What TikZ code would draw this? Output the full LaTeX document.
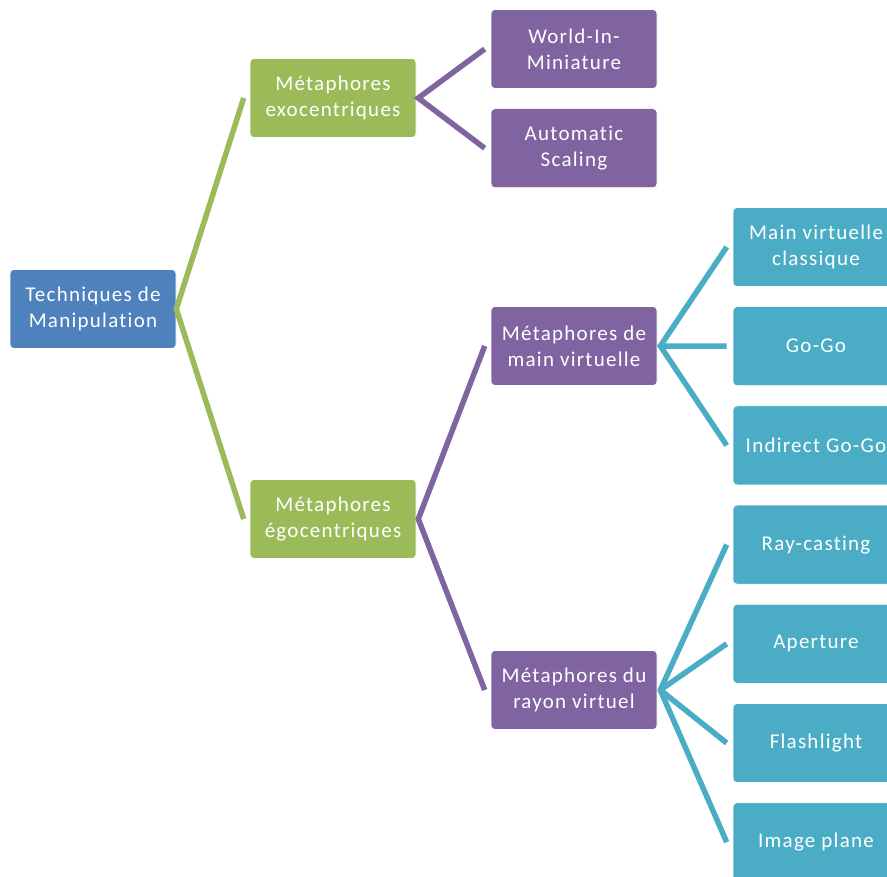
\documentclass[tikz,border=0pt]{standalone}
\usepackage{fontspec}
\setmainfont{Carlito}[LetterSpace=6,Ligatures=NoCommon]
\usetikzlibrary{positioning}
\definecolor{techblue}{HTML}{4F81BD}
\definecolor{metagreen}{HTML}{9BBB59}
\definecolor{metapurple}{HTML}{8064A2}
\definecolor{leafcyan}{HTML}{4BACC6}

\begin{document}
\begin{tikzpicture}[x=1pt,y=-1pt,node distance=19.6pt]
\tikzset{
  box/.style={draw=white,line width=0.6pt,rounded corners=4pt,text=white,align=center,
    inner sep=0pt,minimum width=166pt,minimum height=79pt,font=\fontsize{21}{26}\selectfont},
  techbox/.style={box,fill=techblue},
  metabox/.style={box,fill=metagreen},
  subbox/.style={box,fill=metapurple},
  leafbox/.style={box,fill=leafcyan},
  link/.style={line width=5.5pt,line join=miter}
}
\clip (0,0) rectangle (887,877);

\node[techbox] (tech) at (93,309) {Techniques de\\Manipulation};
\node[metabox] (exo) at (333,98) {Métaphores\\exocentriques};
\node[metabox] (ego) at (333,519) {Métaphores\\égocentriques};

\node[subbox] (wim) at (574,49) {World-In-\\Miniature};
\node[subbox,below=of wim] (autosc) {Automatic\\Scaling};
\node[subbox] (mainv) at (574,346) {Métaphores de\\main virtuelle};
\node[subbox] (rayon) at (574,690) {Métaphores du\\rayon virtuel};

\node[leafbox] (mvc) at (816,247) {Main virtuelle\\classique};
\node[leafbox,below=of mvc] (gogo) {Go-Go};
\node[leafbox,below=of gogo] (igogo) {Indirect Go-Go};
\node[leafbox,below=of igogo] (rcast) {Ray-casting};
\node[leafbox,below=of rcast] (apert) {Aperture};
\node[leafbox,below=of apert] (flash) {Flashlight};
\node[leafbox,below=of flash] (imgpl) {Image plane};

% brackets
\draw[link,metagreen] ([xshift=-6pt]exo.west) -- (tech.east) -- ([xshift=-6pt]ego.west);
\draw[link,metapurple] ([xshift=-6pt]wim.west) -- ([xshift=2pt]exo.east) -- ([xshift=-6pt]autosc.west);
\draw[link,metapurple] ([xshift=-6pt]mainv.west) -- ([xshift=2pt]ego.east) -- ([xshift=-6pt]rayon.west);
\draw[link,leafcyan] ([xshift=-6pt]mvc.west) -- ([xshift=3pt]mainv.east) -- ([xshift=-6pt]igogo.west);
\draw[link,leafcyan] ([xshift=3pt]mainv.east) -- ([xshift=-6pt]gogo.west);
\draw[link,leafcyan] ([xshift=-6pt]rcast.west) -- ([xshift=3pt]rayon.east) -- ([xshift=-6pt]imgpl.west);
\foreach \leaf in {apert,flash}
  \draw[link,leafcyan] ([xshift=3pt]rayon.east) -- ([xshift=-6pt]\leaf.west);
\end{tikzpicture}
\end{document}
